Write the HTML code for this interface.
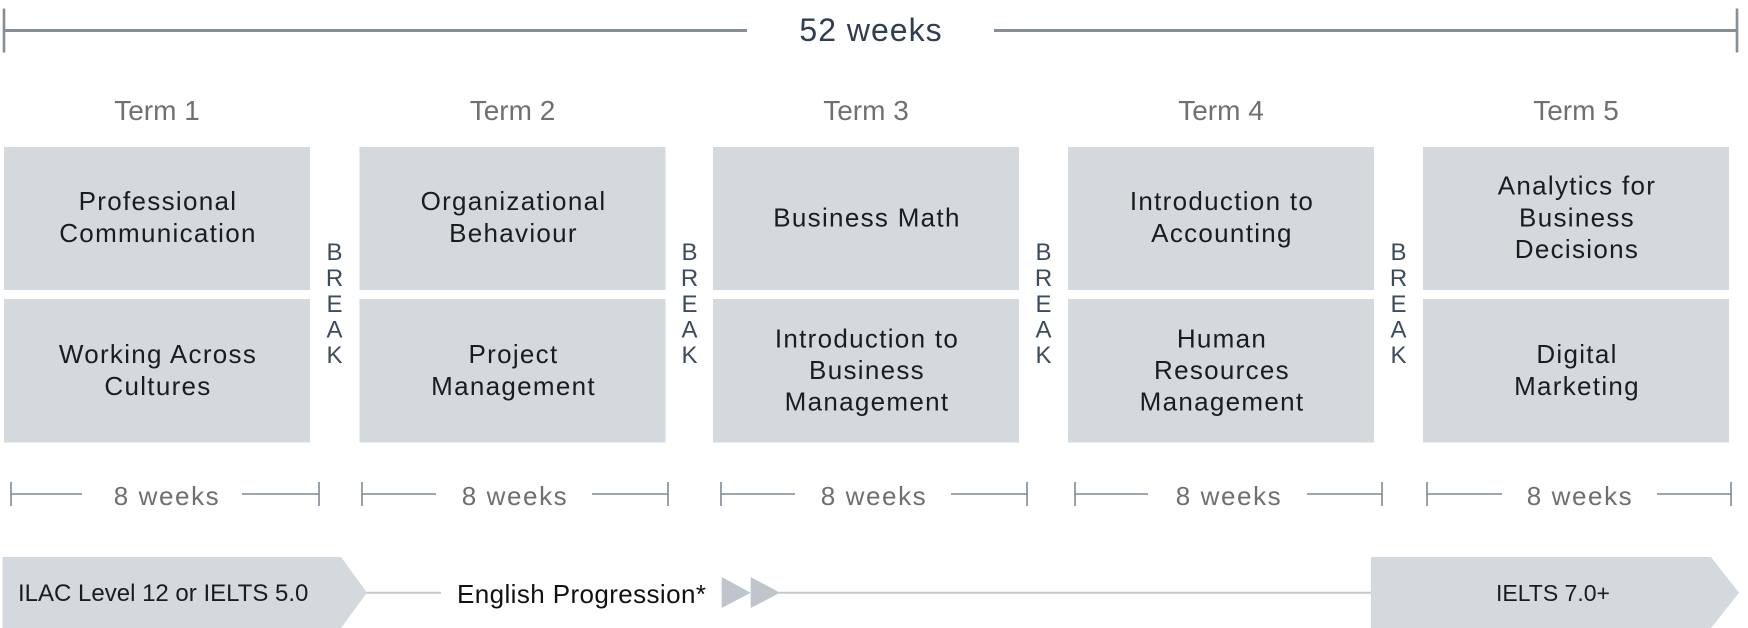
<!DOCTYPE html>
<html>
<head>
<meta charset="utf-8">
<style>
html,body{margin:0;padding:0;background:#fff;}
svg{display:block;}
text{font-family:"Liberation Sans",sans-serif;}
.bx{fill:#d3d9dd;}
.bt{font-size:26px;fill:#1c1c1c;letter-spacing:1.3px;text-anchor:middle;}
.term{font-size:28px;fill:#707070;text-anchor:middle;}
.wk{font-size:26px;fill:#6f6f6f;letter-spacing:1.6px;text-anchor:middle;}
.brk{font-size:24px;fill:#3d4b5c;text-anchor:middle;}
.rl{stroke:#7f8995;stroke-width:1.6;fill:none;}
</style>
</head>
<body>
<svg width="1748" height="628" viewBox="0 0 1748 628" xmlns="http://www.w3.org/2000/svg">
  <!-- 52 weeks ruler -->
  <line x1="4" y1="30.5" x2="747" y2="30.5" stroke="#858e99" stroke-width="3"/>
  <line x1="994" y1="30.5" x2="1737" y2="30.5" stroke="#858e99" stroke-width="3"/>
  <line x1="4" y1="8.5" x2="4" y2="52.5" stroke="#858e99" stroke-width="2.6"/>
  <line x1="1737" y1="8.5" x2="1737" y2="52.5" stroke="#858e99" stroke-width="2.6"/>
  <text x="871" y="41" style="font-size:32px;fill:#2f3e50;letter-spacing:1px;text-anchor:middle;">52 weeks</text>

  <!-- Term labels -->
  <text class="term" x="157" y="120">Term 1</text>
  <text class="term" x="512.5" y="120">Term 2</text>
  <text class="term" x="866" y="120">Term 3</text>
  <text class="term" x="1221" y="120">Term 4</text>
  <text class="term" x="1576" y="120">Term 5</text>

  <!-- Boxes -->
  <rect class="bx" x="4" y="147" width="306" height="143"/>
  <rect class="bx" x="4" y="299" width="306" height="143.5"/>
  <rect class="bx" x="359.5" y="147" width="306" height="143"/>
  <rect class="bx" x="359.5" y="299" width="306" height="143.5"/>
  <rect class="bx" x="713" y="147" width="306" height="143"/>
  <rect class="bx" x="713" y="299" width="306" height="143.5"/>
  <rect class="bx" x="1068" y="147" width="306" height="143"/>
  <rect class="bx" x="1068" y="299" width="306" height="143.5"/>
  <rect class="bx" x="1423" y="147" width="306" height="143"/>
  <rect class="bx" x="1423" y="299" width="306" height="143.5"/>

  <!-- Box texts -->
  <text class="bt" x="158" y="210">Professional</text>
  <text class="bt" x="158" y="242">Communication</text>
  <text class="bt" x="158" y="363">Working Across</text>
  <text class="bt" x="158" y="395">Cultures</text>

  <text class="bt" x="513.5" y="210">Organizational</text>
  <text class="bt" x="513.5" y="242">Behaviour</text>
  <text class="bt" x="513.5" y="363">Project</text>
  <text class="bt" x="513.5" y="395">Management</text>

  <text class="bt" x="867" y="226.5">Business Math</text>
  <text class="bt" x="867" y="347.5">Introduction to</text>
  <text class="bt" x="867" y="379">Business</text>
  <text class="bt" x="867" y="410.5">Management</text>

  <text class="bt" x="1222" y="210">Introduction to</text>
  <text class="bt" x="1222" y="242">Accounting</text>
  <text class="bt" x="1222" y="347.5">Human</text>
  <text class="bt" x="1222" y="379">Resources</text>
  <text class="bt" x="1222" y="410.5">Management</text>

  <text class="bt" x="1577" y="194.5">Analytics for</text>
  <text class="bt" x="1577" y="226.5">Business</text>
  <text class="bt" x="1577" y="258">Decisions</text>
  <text class="bt" x="1577" y="363">Digital</text>
  <text class="bt" x="1577" y="395">Marketing</text>

  <!-- BREAK labels -->
  <g>
    <text class="brk" x="334.5" y="260">B</text>
    <text class="brk" x="334.5" y="286">R</text>
    <text class="brk" x="334.5" y="312">E</text>
    <text class="brk" x="334.5" y="337.5">A</text>
    <text class="brk" x="334.5" y="363">K</text>

    <text class="brk" x="689.5" y="260">B</text>
    <text class="brk" x="689.5" y="286">R</text>
    <text class="brk" x="689.5" y="312">E</text>
    <text class="brk" x="689.5" y="337.5">A</text>
    <text class="brk" x="689.5" y="363">K</text>

    <text class="brk" x="1043.5" y="260">B</text>
    <text class="brk" x="1043.5" y="286">R</text>
    <text class="brk" x="1043.5" y="312">E</text>
    <text class="brk" x="1043.5" y="337.5">A</text>
    <text class="brk" x="1043.5" y="363">K</text>

    <text class="brk" x="1398.5" y="260">B</text>
    <text class="brk" x="1398.5" y="286">R</text>
    <text class="brk" x="1398.5" y="312">E</text>
    <text class="brk" x="1398.5" y="337.5">A</text>
    <text class="brk" x="1398.5" y="363">K</text>
  </g>

  <!-- 8 weeks rulers -->
  <path class="rl" d="M11 482V506 M11 494H82 M242 494H319 M319 482V506"/>
  <text class="wk" x="167" y="505">8 weeks</text>
  <path class="rl" d="M362 482V506 M362 494H436 M592 494H668 M668 482V506"/>
  <text class="wk" x="515" y="505">8 weeks</text>
  <path class="rl" d="M721 482V506 M721 494H795 M951 494H1027 M1027 482V506"/>
  <text class="wk" x="874" y="505">8 weeks</text>
  <path class="rl" d="M1075 482V506 M1075 494H1148 M1307 494H1382 M1382 482V506"/>
  <text class="wk" x="1229" y="505">8 weeks</text>
  <path class="rl" d="M1427 482V506 M1427 494H1502 M1657 494H1731 M1731 482V506"/>
  <text class="wk" x="1580" y="505">8 weeks</text>

  <!-- Bottom progression bar -->
  <line x1="366" y1="592.7" x2="441" y2="592.7" stroke="#c4cacf" stroke-width="2"/>
  <line x1="779" y1="592.7" x2="1372" y2="592.7" stroke="#c4cacf" stroke-width="2"/>
  <polygon points="2.5,557 341,557 367,592.7 341,628 2.5,628" fill="#d3d9dd"/>
  <polygon points="1371,557 1711,557 1739,592.7 1711,628 1371,628" fill="#d3d9dd"/>
  <polygon points="721.7,577 721.7,608 750.7,592.7" fill="#bec5cc"/>
  <polygon points="750.7,577 750.7,608 780,592.7" fill="#bec5cc"/>

  <text x="18" y="601" style="font-size:24px;fill:#1c1c1c;">ILAC Level 12 or IELTS 5.0</text>
  <text x="457" y="603" style="font-size:26px;fill:#111;letter-spacing:0.4px;">English Progression*</text>
  <text x="1553" y="601" style="font-size:23px;fill:#1c1c1c;text-anchor:middle;">IELTS 7.0+</text>
</svg>
</body>
</html>
